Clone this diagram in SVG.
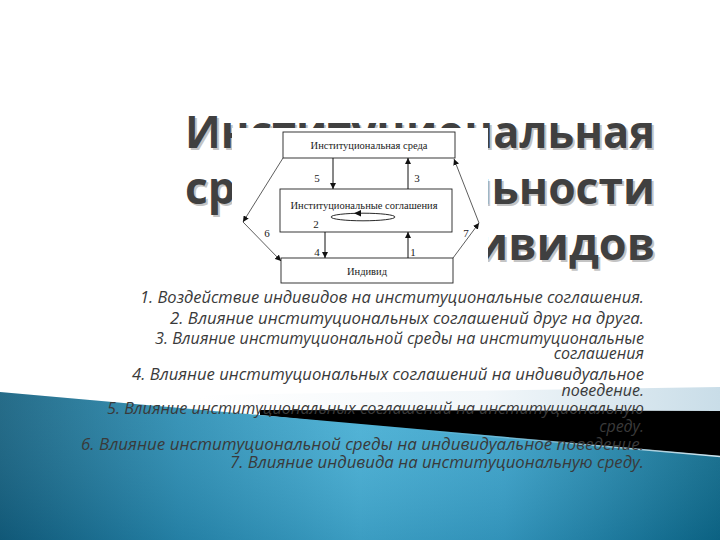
<svg xmlns="http://www.w3.org/2000/svg" width="720" height="540" viewBox="0 0 720 540">
<defs>
  <linearGradient id="wave" x1="0" y1="0" x2="1" y2="0">
    <stop offset="0" stop-color="#135f7e"/>
    <stop offset="0.25" stop-color="#2a8db3"/>
    <stop offset="0.5" stop-color="#46b0d6"/>
    <stop offset="0.7" stop-color="#3aa3cb"/>
    <stop offset="1" stop-color="#0d6a8b"/>
  </linearGradient>
  <linearGradient id="waveV" x1="0" y1="0" x2="0" y2="1">
    <stop offset="0" stop-color="#ffffff" stop-opacity="0.08"/>
    <stop offset="1" stop-color="#003050" stop-opacity="0.15"/>
  </linearGradient>
  <linearGradient id="band" x1="0" y1="0" x2="1" y2="0">
    <stop offset="0" stop-color="#ffffff"/>
    <stop offset="0.55" stop-color="#f2f7fa"/>
    <stop offset="1" stop-color="#c9dde8"/>
  </linearGradient>
  <linearGradient id="edge" x1="0" y1="0" x2="1" y2="0">
    <stop offset="0" stop-color="#e6f4fa" stop-opacity="0"/>
    <stop offset="1" stop-color="#e6f4fa" stop-opacity="0.9"/>
  </linearGradient>
  <marker id="ah" viewBox="0 0 10 10" refX="10" refY="5" markerWidth="6" markerHeight="6" orient="auto-start-reverse" markerUnits="userSpaceOnUse">
    <path d="M0,0 L10,5 L0,10 z" fill="#111"/>
  </marker>
  <style>
    .title { font-family: "Open Sans", "DejaVu Sans", sans-serif; font-weight: bold; font-size: 45px; text-anchor: end; }
    .tmain { fill: #404040; }
    .tshad { fill: #c4c4c4; }
    .body { font-family: "Open Sans", "Liberation Sans", sans-serif; font-style: italic; font-size: 16px; fill: #3a3a3a; text-anchor: end; }
    .box { fill: #ffffff; stroke: #222; stroke-width: 0.9; }
    .lbl { font-family: "Liberation Serif", "Times New Roman", serif; font-size: 10.5px; fill: #222; text-anchor: middle; }
    .num { font-family: "Liberation Serif", "Times New Roman", serif; font-size: 11px; fill: #222; text-anchor: middle; }
    .con { fill: none; stroke: #111; stroke-width: 1; }
    .dia { fill: none; stroke: #333; stroke-width: 0.8; }
  </style>
</defs>

<rect x="0" y="0" width="720" height="540" fill="#ffffff"/>

<!-- background wave -->
<g id="background">
  <polygon points="200,395 720,387 720,413 200,413" fill="url(#band)"/>
  <polygon points="260,410 720,411 720,462 260,415" fill="#000000"/>
  <polygon points="0,392 720,456 720,540 0,540" fill="url(#wave)"/>
  <polygon points="0,392 720,456 720,540 0,540" fill="url(#waveV)"/>
  <line x1="420" y1="430" x2="720" y2="456.5" stroke="url(#edge)" stroke-width="1.5"/>
</g>

<!-- title -->
<g id="title">
  <text class="title tshad" x="657" y="150" textLength="470" lengthAdjust="spacingAndGlyphs">Институциональная</text>
  <text class="title tmain" x="655" y="148" textLength="470" lengthAdjust="spacingAndGlyphs">Институциональная</text>
  <text class="title tshad" x="657" y="206" textLength="470" lengthAdjust="spacingAndGlyphs">среда деятельности</text>
  <text class="title tmain" x="655" y="204" textLength="470" lengthAdjust="spacingAndGlyphs">среда деятельности</text>
  <text class="title tshad" x="657" y="262">индивидов</text>
  <text class="title tmain" x="655" y="260">индивидов</text>
</g>

<!-- diagram picture (white panel) -->
<rect x="232" y="128" width="256" height="159" fill="#ffffff"/>

<g id="node-environment">
  <rect class="box" x="283" y="132" width="172" height="26"/>
  <text class="lbl" x="369" y="149">Институциональная среда</text>
</g>
<g id="node-agreements">
  <rect class="box" x="280" y="189" width="172" height="43"/>
  <text class="lbl" x="364" y="209">Институциональные соглашения</text>
  <ellipse cx="363" cy="217" rx="32" ry="3.8" fill="none" stroke="#111" stroke-width="0.9"/>
  <path d="M361,210 L354,213.2 L361,216.4 z" fill="#111"/>
</g>
<g id="node-individual">
  <rect class="box" x="281" y="258" width="172" height="25"/>
  <text class="lbl" x="367" y="275">Индивид</text>
</g>

<g id="connectors">
  <line class="con" x1="333" y1="158" x2="333" y2="189" marker-end="url(#ah)"/>
  <line class="con" x1="408" y1="189" x2="408" y2="158" marker-end="url(#ah)"/>
  <line class="con" x1="325" y1="232" x2="325" y2="258" marker-end="url(#ah)"/>
  <line class="con" x1="408" y1="258" x2="408" y2="232" marker-end="url(#ah)"/>
  <line class="dia" x1="283" y1="158" x2="243" y2="222" marker-end="url(#ah)"/>
  <line class="dia" x1="243" y1="222" x2="281" y2="261" marker-end="url(#ah)"/>
  <line class="dia" x1="453" y1="258" x2="479" y2="223" marker-end="url(#ah)"/>
  <line class="dia" x1="479" y1="223" x2="454" y2="159" marker-end="url(#ah)"/>
  <text class="num" x="317" y="182">5</text>
  <text class="num" x="417" y="182">3</text>
  <text class="num" x="316" y="228">2</text>
  <text class="num" x="267" y="237">6</text>
  <text class="num" x="466" y="237">7</text>
  <text class="num" x="317" y="256">4</text>
  <text class="num" x="413" y="256">1</text>
</g>

<!-- list -->
<g id="list">
  <text class="body" x="644" y="303" textLength="504" lengthAdjust="spacingAndGlyphs">1. Воздействие индивидов на институциональные соглашения.</text>
  <text class="body" x="644" y="324" textLength="474" lengthAdjust="spacingAndGlyphs">2. Влияние институциональных соглашений друг на друга.</text>
  <text class="body" x="644" y="344" textLength="489" lengthAdjust="spacingAndGlyphs">3. Влияние институциональной среды на институциональные</text>
  <text class="body" x="644" y="359">соглашения</text>
  <text class="body" x="644" y="380" textLength="512" lengthAdjust="spacingAndGlyphs">4. Влияние институциональных соглашений на индивидуальное</text>
  <text class="body" x="644" y="396">поведение.</text>
  <text class="body" x="644" y="414" textLength="537" lengthAdjust="spacingAndGlyphs">5. Влияние институциональных соглашений на институциональную</text>
  <text class="body" x="644" y="432">среду.</text>
  <text class="body" x="644" y="450" textLength="563" lengthAdjust="spacingAndGlyphs">6. Влияние институциональной среды на индивидуальное поведение.</text>
  <text class="body" x="644" y="468" textLength="414" lengthAdjust="spacingAndGlyphs">7. Влияние индивида на институциональную среду.</text>
</g>
</svg>
